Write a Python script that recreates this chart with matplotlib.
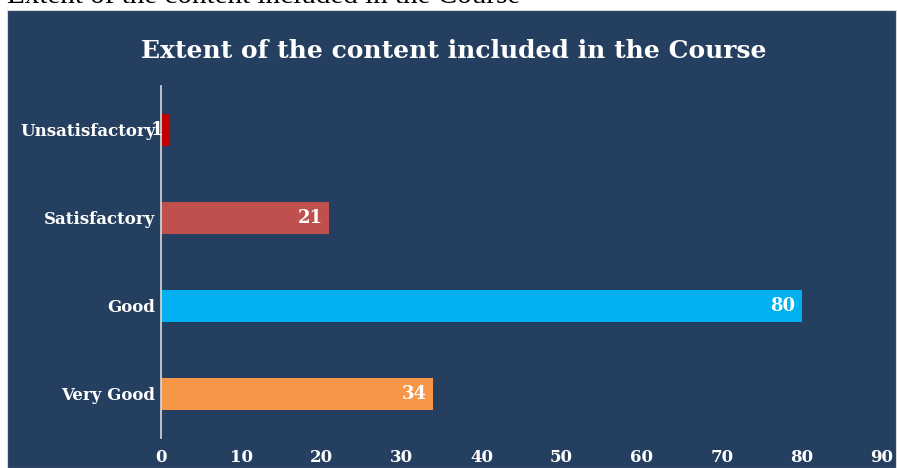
import matplotlib
matplotlib.use("Agg")
import matplotlib.pyplot as plt
from matplotlib.patches import Rectangle

categories = ["Unsatisfactory", "Satisfactory", "Good", "Very Good"]
counts = [1, 21, 80, 34]
bar_colors = ["#C00000", "#C0504D", "#00B0F0", "#F79646"]
xticks = [0, 10, 20, 30, 40, 50, 60, 70, 80, 90]

title = "Extent of the content included in the Course"
bg = "#253F60"
W, H = 897, 468

fig = plt.figure(figsize=(W / 100, H / 100), dpi=100)
fig.patch.set_facecolor("white")

# dark chart panel, kept behind the axes
fig.patches.append(Rectangle((7 / W, 0), 889 / W, 458 / H, transform=fig.transFigure,
                             facecolor=bg, edgecolor="#D9D9D9", linewidth=0.8, zorder=-1))

# caption above the panel (partly cut off by the top edge)
fig.text(7 / W, (H - 3) / H, title, family="Liberation Serif", fontsize=21,
         color="black", ha="left", va="baseline")

ax = fig.add_axes([161 / W, 30 / H, 721 / W, 352 / H])
ax.set_facecolor("none")

ypos = list(range(len(categories)))
bars = ax.barh(ypos, counts, height=0.36, color=bar_colors, zorder=2)

ax.set_xlim(0, 90)
ax.set_ylim(len(categories) - 0.5, -0.5)
ax.set_xticks(xticks)
ax.set_yticks(ypos)
ax.set_yticklabels(categories)

for spine in ["top", "right", "bottom"]:
    ax.spines[spine].set_visible(False)
ax.spines["left"].set_color("#D9D9D9")
ax.spines["left"].set_linewidth(1.2)
ax.tick_params(axis="both", length=0, colors="white")
ax.tick_params(axis="x", pad=8)
ax.tick_params(axis="y", pad=4)
for lbl in ax.get_xticklabels() + ax.get_yticklabels():
    lbl.set_family("DejaVu Serif")
    lbl.set_fontweight("bold")
    lbl.set_fontsize(12)

# value labels at the inside end of each bar
for b, v in zip(bars, counts):
    ax.annotate(str(v), xy=(b.get_width(), b.get_y() + b.get_height() / 2),
                xytext=(-4.5, 0), textcoords="offset points", ha="right", va="center",
                family="DejaVu Serif", fontweight="bold", fontsize=13, color="white",
                zorder=3)

fig.text(454 / W, (H - 51) / H, title, family="DejaVu Serif", fontweight="bold",
         fontsize=18, color="white", ha="center", va="center")

fig.savefig("out.png", dpi=100, facecolor=fig.get_facecolor())
